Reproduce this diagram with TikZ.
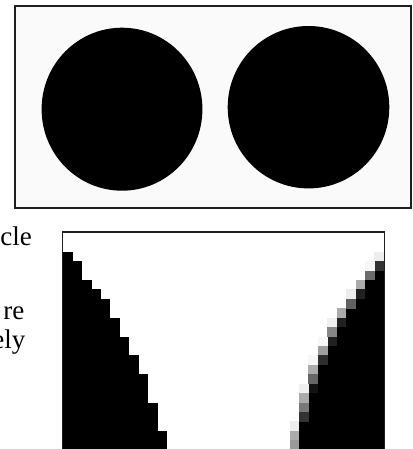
\documentclass[tikz,border=0pt]{standalone}
\usepackage{fontspec}
\setmainfont{Liberation Serif}
\begin{document}
\begin{tikzpicture}[x=1pt,y=-1pt,
  txt/.style={inner sep=0pt,anchor=base east,font=\fontsize{27}{30}\selectfont},
  topframe/.style={draw=black!88,line width=2pt,fill=black!2},
  botframe/.style={draw=black!88,line width=1.6pt},
  disc/.style={fill=black}]
\useasboundingbox (0,0) rectangle (412,449);
\clip (0,0) rectangle (412,449);
\fill[white] (0,0) rectangle (412,449);
% top picture
\filldraw[topframe] (15,6) rectangle (411,207.5);
\fill[disc] (122,109.2) ellipse [x radius=80.4, y radius=81.5];
\fill[disc] (308.5,107.2) ellipse [x radius=80.8, y radius=81.2];
% clipped text on the left
\node[txt] (t1) at (32,245) {cle};
\node[txt] (t2) at (24.5,319) {re};
\node[txt] (t3) at (25.5,348) {ely};
% bottom picture (magnified pixels)
\def\s{9.43}
\def\xo{63.3}
\def\yo{251.7}
\foreach \k/\w in {0/1,1/2,2/2,3/3,4/4,5/5,6/5,7/6,8/6,9/7,10/7,11/8,12/8,13/9,14/9,15/9,16/10,17/10,18/10,19/11,20/11}
  \fill[black] ({\xo-1},{\yo+\k*\s}) rectangle ({\xo+\w*\s},{\yo+(\k+1)*\s+0.3});
\foreach \k/\b in {2/33,3/32,4/32,5/31,6/30,7/30,8/29,9/29,10/28,11/28,12/27,13/27,14/27,15/26,16/26,17/26,18/25,19/25,20/25}
  \fill[black] ({\xo+\b*\s},{\yo+\k*\s}) rectangle ({\xo+34*\s+1},{\yo+(\k+1)*\s+0.3});
\foreach \k/\c/\g in {0/33/7,1/33/80,1/32/3,2/32/58,3/31/33,4/31/87,4/30/7,5/30/62,6/29/33,7/29/87,7/28/6,8/28/47,9/28/87,9/27/3,10/27/38,11/27/82,11/26/3,12/26/33,13/26/60,14/26/93,14/25/6,15/25/33,16/25/53,17/25/80,18/24/7,19/24/33,20/24/40}
  \fill[black!\g] ({\xo+\c*\s},{\yo+\k*\s}) rectangle ({\xo+(\c+1)*\s+0.2},{\yo+(\k+1)*\s+0.3});
\draw[botframe] (62.6,460) -- (62.6,232) -- (384.6,232) -- (384.6,460);
\end{tikzpicture}
\end{document}
